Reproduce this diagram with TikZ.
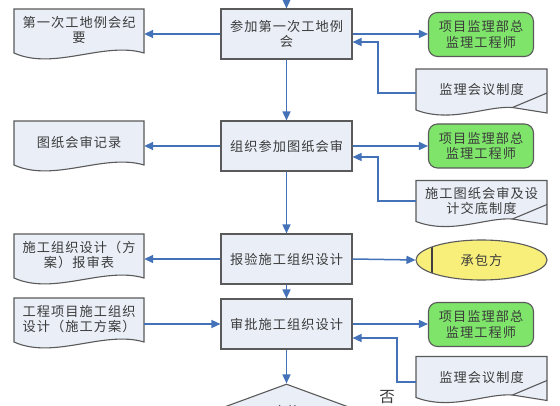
\documentclass[tikz,border=0pt]{standalone}
\usepackage{fontspec}
\newfontfamily\cjk[LetterSpace=8]{Noto Sans CJK SC}
\usetikzlibrary{arrows.meta,shapes.geometric}
\definecolor{boxfill}{HTML}{E9EEF7}
\definecolor{boxline}{HTML}{5A5A5A}
\definecolor{arrblue}{HTML}{4472B8}
\definecolor{grfill}{HTML}{7EE46A}
\definecolor{yelfill}{HTML}{F7EF7A}
\definecolor{txt}{HTML}{3C3C3C}
\newcommand\ldoc[4]{%
  \path[docline] (#2-65,#3-22) -- (#2+65,#3-22) -- (#2+65,#3+22)
    .. controls (#2+25,#3+10) and (#2-25,#3+40) .. (#2-65,#3+22) -- cycle;
  \node[docbox] (#1) at (#2,#3-1) {#4};}
\newcommand\rdoc[4]{%
  \path[docline] (#2-65.5,#3-20.5) -- (#2+65.5,#3-20.5) -- (#2+65.5,#3+23.5)
    -- (#2+31,#3+18) .. controls (#2+5,#3+16) and (#2-30,#3+34) .. (#2-65.5,#3+20.5) -- cycle;
  \draw[draw=boxline, line width=1.1pt] (#2+31,#3+18) -- (#2+65.5,#3+3.5);
  \node[docbox] (#1) at (#2,#3) {#4};}
\begin{document}
\begin{tikzpicture}[x=1pt,y=-1pt,
  every node/.style={font=\cjk\fontsize{13.2}{15.5}\selectfont, text=txt, align=center, inner sep=0pt},
  procbox/.style={draw=boxline, fill=boxfill, line width=1.1pt, minimum width=131pt, minimum height=50pt},
  docbox/.style={minimum width=130pt, minimum height=42pt},
  greenbox/.style={draw=boxline, fill=grfill, line width=1.1pt, rounded corners=9pt, minimum width=105pt, minimum height=44pt},
  docline/.style={draw=boxline, fill=boxfill, line width=1.1pt},
  arr/.style={draw=arrblue, line width=1.5pt, -{Triangle[length=9pt,width=8pt]}},
]
\useasboundingbox (0,0) rectangle (560,406);
\clip (0,0) rectangle (560,406);
\fill[white] (0,0) rectangle (560,406);

% process boxes
\node[procbox] (b1) at (286.5,34) {参加第一次工地例\\会};
\node[procbox] (b2) at (286.5,146) {组织参加图纸会审};
\node[procbox] (b3) at (286.5,259) {报验施工组织设计};
\node[procbox] (b4) at (286.5,324) {审批施工组织设计};
\node[diamond, draw=boxline, fill=boxfill, line width=1.1pt, minimum width=250pt, minimum height=92pt] (dm) at (286.5,430) {};
\node (hg) at (286.5,411) {合格};
\node[font=\cjk\fontsize{15.5}{17}\selectfont] (no) at (387,397) {否};

% left documents
\ldoc{d1}{79}{31}{第一次工地例会纪\\要}
\ldoc{d2}{79}{143}{图纸会审记录}
\ldoc{d3}{79}{256}{施工组织设计（方\\案）报审表}
\ldoc{d4}{79}{320}{工程项目施工组织\\设计（施工方案）}

% right side
\node[greenbox] (g1) at (481,34.5) {项目监理部总\\监理工程师};
\node[greenbox] (g2) at (481,146) {项目监理部总\\监理工程师};
\node[greenbox] (g4) at (481,324.5) {项目监理部总\\监理工程师};
\rdoc{rA}{481.5}{89.5}{监理会议制度}
\rdoc{rB}{481.5}{201}{施工图纸会审及设\\计交底制度}
\rdoc{rC}{481.5}{377}{监理会议制度}
\node[ellipse, draw=boxline, fill=yelfill, line width=1.1pt, minimum width=131pt, minimum height=40pt,
  path picture={\draw[line width=1.2pt, draw=black!75] ([xshift=16pt]path picture bounding box.north west) -- ([xshift=16pt]path picture bounding box.south west);}]
  (el) at (481.5,260) {承包方};

% main flow
\coordinate (top) at (286.5,-2);
\draw[arr] (top) -- (b1.north);
\draw[arr] (b1.south) -- (b2.north);
\draw[arr] (b2.south) -- (b3.north);
\draw[arr] (b3.south) -- (b4.north);
\draw[arr] (b4.south) -- (dm.north);

% left arrows
\draw[arr] (b1.west) -- (b1.west -| d1.east);
\draw[arr] (b2.west) -- (b2.west -| d2.east);
\draw[arr] (b3.west) -- (b3.west -| d3.east);
\draw[arr] (d4.east |- b4.west) -- (b4.west);

% right arrows
\draw[arr] (b1.east) -- (b1.east -| g1.west);
\draw[arr] (b2.east) -- (b2.east -| g2.west);
\draw[arr] (b3.east) -- (el.west);
\draw[arr] (b4.east) -- (b4.east -| g4.west);

% returns
\coordinate (in1) at ([yshift=-8pt]b1.east);
\coordinate (k1) at (378,42);
\draw[arr] ([yshift=-3.5pt]rA.west) -| (k1) -- (in1);
\coordinate (in2) at ([yshift=-11pt]b2.east);
\coordinate (k2) at (378,157);
\draw[arr] (rB.west) -| (k2) -- (in2);
\coordinate (in4) at ([yshift=-14pt]b4.east);
\coordinate (k4) at (397,338);
\draw[arr] ([yshift=-5pt]rC.west) -| (k4) -- (in4);
\end{tikzpicture}
\end{document}
